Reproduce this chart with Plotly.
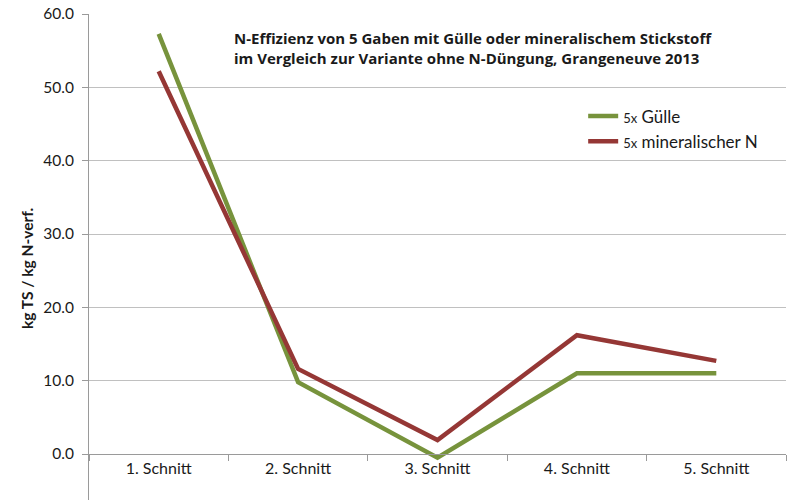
import plotly.graph_objects as go

categories = ["1. Schnitt", "2. Schnitt", "3. Schnitt", "4. Schnitt", "5. Schnitt"]
guelle = [57.3, 9.8, -0.5, 11.0, 11.0]
mineral = [52.2, 11.6, 1.9, 16.2, 12.7]
y_ticks = [0, 10, 20, 30, 40, 50, 60]
y_tick_labels = ["0.0", "10.0", "20.0", "30.0", "40.0", "50.0", "60.0"]

title_text = ("<b>N-Effizienz von 5 Gaben mit Gülle oder mineralischem Stickstoff<br>"
              "im Vergleich zur Variante ohne N-Düngung, Grangeneuve 2013</b>")

ymin, ymax = -6.27, 60
zero_pos = (0 - ymin) / (ymax - ymin)

fig = go.Figure()
fig.add_trace(go.Scatter(
    x=categories, y=guelle, mode="lines",
    name="<span style='font-size:13px'>5x</span> Gülle",
    line=dict(color="#77933C", width=4.5),
))
fig.add_trace(go.Scatter(
    x=categories, y=mineral, mode="lines",
    name="<span style='font-size:13px'>5x</span> mineralischer N",
    line=dict(color="#953735", width=4.5),
))

fig.update_layout(
    width=788, height=500,
    margin=dict(l=89, r=2, t=14, b=0, autoexpand=False),
    paper_bgcolor="white", plot_bgcolor="white",
    font=dict(family="Lato, 'Open Sans', sans-serif", color="#1a1a1a", size=16),
    showlegend=True,
    legend=dict(x=0.709, y=0.826, xanchor="left", yanchor="top",
                bgcolor="rgba(0,0,0,0)", font=dict(size=17, color="#1a1a1a"),
                tracegroupgap=0),
    xaxis=dict(
        type="category", range=[-0.5, 4.5],
        anchor="free", position=zero_pos, automargin=False,
        showline=True, linecolor="#9a9a9a", linewidth=1,
        ticks="outside", ticklen=6, tickcolor="#9a9a9a", tickson="boundaries",
        showgrid=False, tickfont=dict(size=16, color="#1a1a1a"),
        ticklabelstandoff=0, ticklabeloverflow="allow",
    ),
    yaxis=dict(
        range=[ymin, ymax], tickvals=y_ticks, ticktext=y_tick_labels,
        automargin=False, ticklabeloverflow="allow",
        showline=True, linecolor="#9a9a9a", linewidth=1,
        ticks="outside", ticklen=6, tickcolor="#9a9a9a",
        showgrid=True, gridcolor="#c0c0c0", gridwidth=1,
        zeroline=False, ticklabelstandoff=5,
        tickfont=dict(size=15.5, color="#1a1a1a"),
    ),
    annotations=[
        dict(text=title_text, xref="paper", yref="paper", x=0.205, y=0.976,
             xanchor="left", yanchor="top", align="left", showarrow=False,
             font=dict(family="'Open Sans', sans-serif", size=15, color="#1a1a1a")),
        dict(text="<b>kg TS / kg N-verf.</b>", xref="paper", yref="paper",
             x=(27 - 89) / 697, y=(500 - 268) / 486,
             xanchor="center", yanchor="middle", textangle=-90, showarrow=False,
             font=dict(size=15.5, color="#1a1a1a")),
    ],
)

fig.write_html("out.html", config={"displayModeBar": False},
               post_script="document.body.style.margin='0';")
